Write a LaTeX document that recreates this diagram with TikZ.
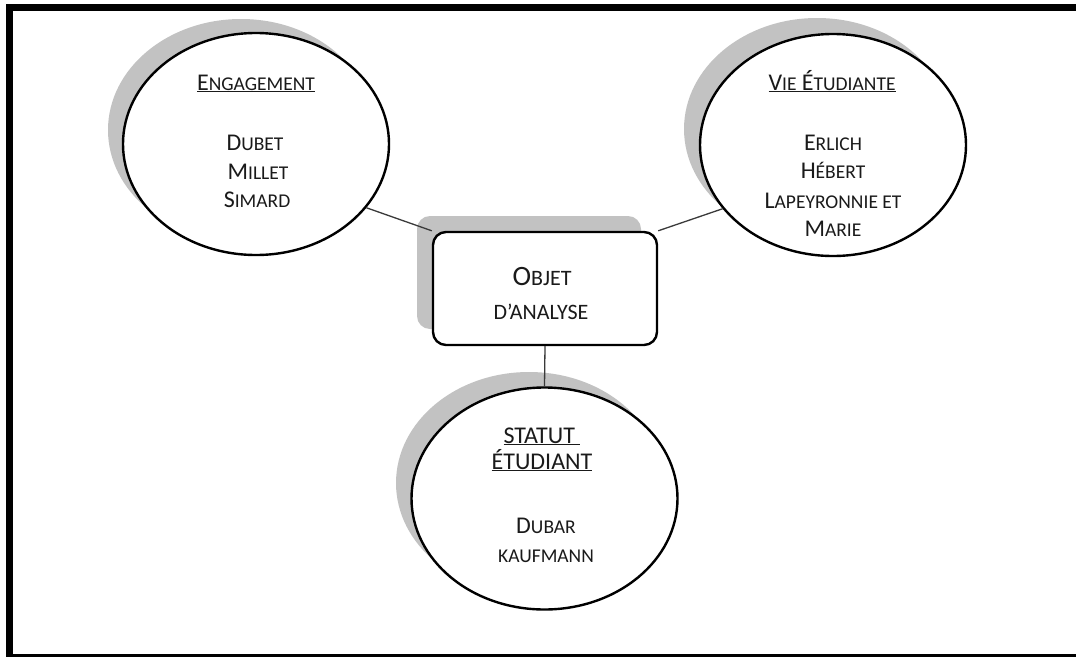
\documentclass[tikz,border=0pt]{standalone}
\usepackage{fontspec}
\setmainfont{Carlito}
\usetikzlibrary{shapes.geometric}
\newcommand\sk[1]{{\fontsize{19.5}{22}\selectfont #1}}
\newcommand\bk[1]{{\fontsize{22}{24}\selectfont #1}}
\definecolor{shadowgray}{HTML}{C2C2C2}
\definecolor{inkgray}{HTML}{1A1A1A}
\definecolor{linegray}{HTML}{3A3A3A}
\tikzset{
  bubble/.style={ellipse, draw=black, line width=2.4pt, fill=white, minimum width=266, minimum height=222, inner sep=0pt},
  bubbleshadow/.style={ellipse, fill=shadowgray, minimum width=266, minimum height=222, inner sep=0pt},
  centerbox/.style={rectangle, rounded corners=13, draw=black, line width=2.4pt, fill=white, minimum width=224, minimum height=113, inner sep=0pt},
  boxshadow/.style={rectangle, rounded corners=13, fill=shadowgray, minimum width=224, minimum height=113, inner sep=0pt},
  label/.style={anchor=base, inner sep=0pt, text=inkgray, font=\fontsize{24}{28}\selectfont},
  boxlabel/.style={anchor=base, inner sep=0pt, text=inkgray, font=\fontsize{28}{32}\selectfont},
  link/.style={draw=linegray, line width=1.3pt},
}
\begin{document}
\begin{tikzpicture}[x=1pt, y=-1pt]
\useasboundingbox (0,0) rectangle (1076,656);
\clip (0,0) rectangle (1076,656);
\fill[white] (0,0) rectangle (1076,656);
% frame
\draw[line width=7pt, black] (9.5,7.5) rectangle (1100,657.5);

% shadows
\node[bubbleshadow] (s1) at (241,130) {};
\node[bubbleshadow] (s2) at (817,129) {};
\node[bubbleshadow] (s3) at (529,483) {};
\node[boxshadow] (sb) at (529,272.5) {};

% main shapes
\node[bubble] (e1) at (256,144) {};
\node[bubble] (e2) at (833,145) {};
\node[bubble] (e3) at (544.5,498.5) {};
\node[centerbox] (box) at (545,288.5) {};

% connectors
\draw[link] (e1.-30) -- (box.north west);
\draw[link] (e2.210) -- (box.north east);
\draw[link] (box.south) -- (e3.north);

% texts ellipse 1
\node[label] (t1) at (256,90) {\underline{E\sk{NGAGEMENT}}};
\node[label] (t1a) at (255,150) {D\sk{UBET}};
\node[label] (t1b) at (258,179) {M\sk{ILLET}};
\node[label] (t1c) at (257,207) {S\sk{IMARD}};

% texts ellipse 2
\node[label] (t2) at (832,90) {\underline{V\sk{IE} É\sk{TUDIANTE}}};
\node[label] (t2a) at (833,150) {E\sk{RLICH}};
\node[label] (t2b) at (833,178) {H\sk{ÉBERT}};
\node[label] (t2c) at (833,208) {L\sk{APEYRONNIE ET}};
\node[label] (t2d) at (833,236) {M\sk{ARIE}};

% texts box
\node[boxlabel] (tb1) at (542,285) {O\bk{BJET}};
\node[boxlabel] (tb2) at (541,319) {\bk{D’ANALYSE}};

% texts ellipse 3
\node[label] (t3a) at (542,443) {\underline{STATUT\ }};
\node[label] (t3b) at (542,469) {\underline{ÉTUDIANT}};
\node[label] (t3c) at (546,533) {D\sk{UBAR}};
\node[label] (t3d) at (546,562) {\sk{KAUFMANN}};
\end{tikzpicture}
\end{document}
